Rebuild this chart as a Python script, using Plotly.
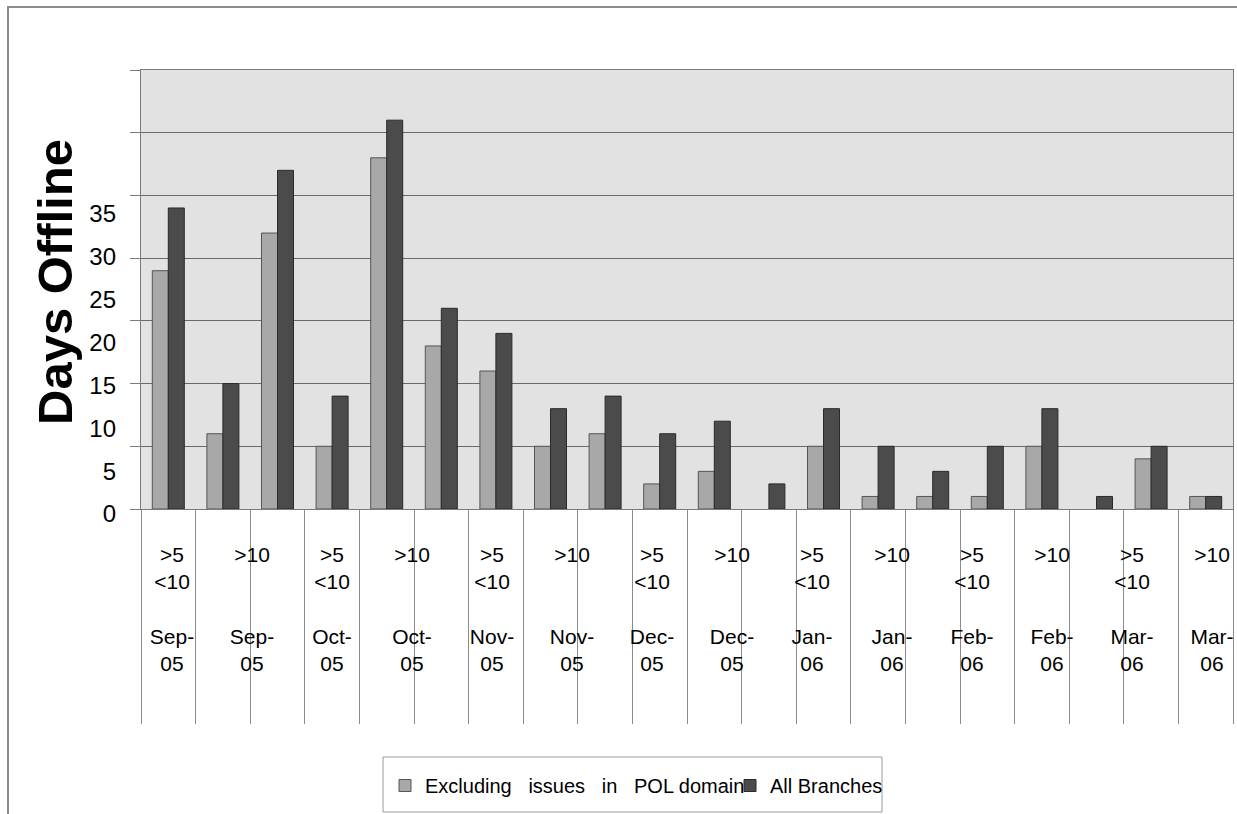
import plotly.graph_objects as go

# ---- data -------------------------------------------------------------
# 20 bar slots along the category axis
bar_slots = list(range(20))
excluding_pol = [19, 6, 22, 5, 28, 13, 11, 5, 6, 2, 3, 0, 5, 1, 1, 1, 5, 0, 4, 1]
all_branches = [24, 10, 27, 9, 31, 16, 14, 8, 9, 6, 7, 2, 8, 5, 3, 5, 8, 1, 5, 1]

# category labels printed under the axis
bands = [">5 <10", ">10"] * 7
periods = ["Sep-05", "Sep-05", "Oct-05", "Oct-05", "Nov-05", "Nov-05",
           "Dec-05", "Dec-05", "Jan-06", "Jan-06", "Feb-06", "Feb-06",
           "Mar-06", "Mar-06"]

y_ticks = [0, 5, 10, 15, 20, 25, 30, 35]

series_names = ["Excluding   issues   in   POL domain", "All Branches"]

# ---- geometry helpers (figure pixels -> paper coords) -------------------
W, H = 1237, 814
L, R, T, B = 141, 4, 70, 305
PW, PH = W - L - R, H - T - B


def px_x(px):
    return (px - L) / PW


def px_y(py):
    return (H - B - py) / PH


def label_text(band, period):
    parts = band.split(" ")
    band_lines = [p.replace("<", "&lt;").replace(">", "&gt;") for p in parts]
    while len(band_lines) < 2:
        band_lines.append("")
    month, year = period.split("-")
    return "<br>".join(band_lines + ["", month + "-", year])


def outline_widths(values):
    # no outline on empty bars
    return [0 if v == 0 else 1 for v in values]


tick_text = [label_text(b, p) for b, p in zip(bands, periods)]

FONT = "Liberation Sans, Arial, sans-serif"

fig = go.Figure()

fig.add_trace(go.Bar(
    x=bar_slots, y=excluding_pol, name=series_names[0],
    marker=dict(color="#a8a8a8",
                line=dict(color="#555555", width=outline_widths(excluding_pol))),
))
fig.add_trace(go.Bar(
    x=bar_slots, y=all_branches, name=series_names[1],
    marker=dict(color="#4b4b4b",
                line=dict(color="#2a2a2a", width=outline_widths(all_branches))),
))

# carrier traces for the label axes
fig.add_trace(go.Scatter(
    x=list(range(len(periods))), y=[0] * len(periods), xaxis="x2", yaxis="y",
    mode="markers", marker=dict(opacity=0), hoverinfo="skip", showlegend=False,
))
fig.add_trace(go.Scatter(
    x=[0], y=[0], xaxis="x", yaxis="y2",
    mode="markers", marker=dict(opacity=0), hoverinfo="skip", showlegend=False,
))

# label axis scale for the category texts (80 px per label, first at 172 px)
lab_step = 80.0
lab_lo = -(172 - L) / lab_step
lab_hi = lab_lo + PW / lab_step

# value-label scale on the left (8.57 px per unit)
val_px = 8.571
val_hi = PH / val_px

fig.update_layout(
    width=W, height=H,
    margin=dict(l=L, r=R, t=T, b=B, autoexpand=False),
    paper_bgcolor="white",
    plot_bgcolor="#e2e2e2",
    font=dict(family=FONT, color="black"),
    barmode="group",
    bargap=0.414,
    bargroupgap=0,
    xaxis=dict(
        type="linear", range=[-0.5, 19.5],
        tickmode="array", tickvals=[i - 0.5 for i in range(21)],
        ticks="outside", ticklen=214, tickcolor="#8c8c8c", tickwidth=1,
        showticklabels=False, showgrid=False, zeroline=False,
        showline=True, linecolor="#7a7a7a", linewidth=1, mirror=True,
    ),
    xaxis2=dict(
        type="linear", overlaying="x", anchor="y", side="bottom",
        range=[lab_lo, lab_hi],
        tickmode="array", tickvals=list(range(len(periods))), ticktext=tick_text,
        ticks="", showgrid=False, zeroline=False, showline=False,
        tickfont=dict(family=FONT, size=21, color="black"),
        ticklabelstandoff=31,
    ),
    yaxis=dict(
        range=[0, 35], tickmode="array", tickvals=y_ticks,
        showticklabels=False, ticks="outside", ticklen=10,
        tickcolor="#7a7a7a", showgrid=True, gridcolor="#6a6a6a", gridwidth=1,
        zeroline=False, showline=True, linecolor="#7a7a7a", linewidth=1,
        mirror=True,
    ),
    yaxis2=dict(
        overlaying="y", anchor="x", side="left",
        range=[0, val_hi], tickmode="array", tickvals=y_ticks,
        ticks="", showgrid=False, zeroline=False, showline=False,
        tickfont=dict(family=FONT, size=24, color="black"),
        ticklabelstandoff=24, ticklabelshift=5,
    ),
    legend=dict(
        orientation="h", x=px_x(385), y=px_y(766),
        xanchor="left", yanchor="top",
        bgcolor="rgba(0,0,0,0)", borderwidth=0,
        entrywidth=300, entrywidthmode="pixels",
        font=dict(family=FONT, size=20, color="black"),
        itemclick=False,
    ),
    showlegend=True,
)

fig.add_annotation(
    text="Days Offline", xref="paper", yref="paper",
    x=px_x(55), y=px_y(282), xanchor="center", yanchor="middle",
    textangle=-90, showarrow=False,
    font=dict(family=FONT, size=49, color="black", weight="bold"),
)

# outer chart frame
fig.add_shape(
    type="rect", xref="paper", yref="paper",
    x0=px_x(8), x1=px_x(1260), y0=px_y(840), y1=px_y(7),
    line=dict(color="#8c8c8c", width=2), fillcolor="rgba(0,0,0,0)",
    layer="below",
)
# legend frame
fig.add_shape(
    type="rect", xref="paper", yref="paper",
    x0=px_x(383), x1=px_x(882), y0=px_y(812), y1=px_y(757),
    line=dict(color="#9a9a9a", width=1), fillcolor="white",
    layer="below",
)

fig.write_html("out.html")
